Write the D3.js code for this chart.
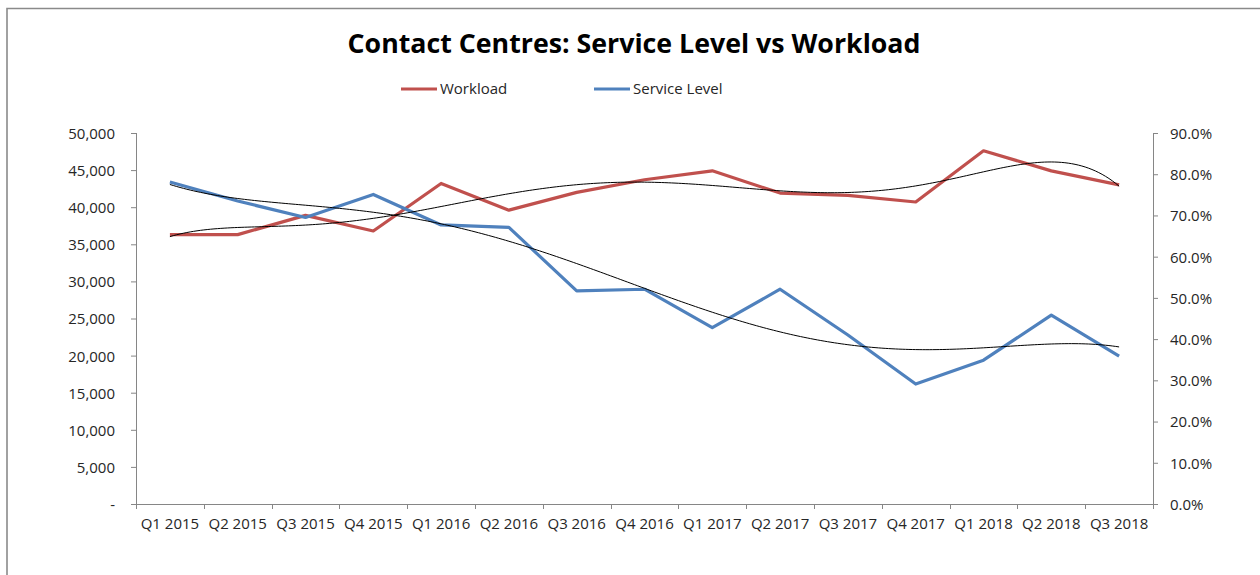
<!DOCTYPE html>
<html>
<head>
<meta charset="utf-8">
<script src="https://cdn.jsdelivr.net/npm/d3@7"></script>
<style>
  html, body { margin: 0; padding: 0; background: #fff; }
  svg { display: block; }
  text { font-family: "Open Sans", "Noto Sans", sans-serif; fill: #262626; }
</style>
</head>
<body>
<svg id="chart" width="1260" height="575"></svg>
<script>
// Quarterly categories
const quarters = ["Q1 2015","Q2 2015","Q3 2015","Q4 2015","Q1 2016","Q2 2016","Q3 2016","Q4 2016",
                  "Q1 2017","Q2 2017","Q3 2017","Q4 2017","Q1 2018","Q2 2018","Q3 2018"];
// Contacts handled per quarter (left axis)
const workload = [36300, 36300, 38900, 36800, 43200, 39600, 42000, 43700,
                  44900, 41900, 41600, 40700, 47600, 44900, 43000];
// Share of contacts answered within target (right axis)
const serviceLevel = [0.781, 0.735, 0.695, 0.751, 0.677, 0.671, 0.517, 0.521,
                      0.428, 0.521, 0.410, 0.291, 0.349, 0.458, 0.359];
// Axis ticks
const leftTicks = [0, 5000, 10000, 15000, 20000, 25000, 30000, 35000, 40000, 45000, 50000];
const rightTicks = [0, 0.1, 0.2, 0.3, 0.4, 0.5, 0.6, 0.7, 0.8, 0.9];
const trendOrder = 6;

const svg = d3.select("#chart");
const plot = { left: 136, right: 1153, top: 133, bottom: 504 };
const red = "#C0504D", blue = "#4F81BD", axisGrey = "#868686";

// Outer frame (top and left edges)
svg.append("path")
  .attr("d", "M7,575 V8.5 H1260")
  .attr("fill", "none").attr("stroke", "#8a8a8a").attr("stroke-width", 1.6);

// Title, fitted to its width
const title = svg.append("text")
  .attr("x", 634).attr("y", 53).attr("text-anchor", "middle")
  .style("font-weight", "700").style("font-size", "28px").style("fill", "#000")
  .text("Contact Centres: Service Level vs Workload");
const tw = title.node().getComputedTextLength();
title.style("font-size", (28 * 573 / tw).toFixed(2) + "px");

// Scales
const x = d3.scaleBand().domain(quarters).range([plot.left, plot.right]);
const yL = d3.scaleLinear().domain([0, 50000]).range([plot.bottom, plot.top]);
const yR = d3.scaleLinear().domain([0, 0.9]).range([plot.bottom, plot.top]);
const cx = q => x(q) + x.bandwidth() / 2;

// Axes
const fmtL = d => d === 0 ? "-" : d3.format(",")(d);
const axL = svg.append("g").attr("transform", `translate(${plot.left},0)`)
  .call(d3.axisLeft(yL).tickValues(leftTicks).tickFormat(fmtL).tickSize(5).tickPadding(16));
const axR = svg.append("g").attr("transform", `translate(${plot.right},0)`)
  .call(d3.axisRight(yR).tickValues(rightTicks).tickFormat(d3.format(".1%")).tickSize(5).tickPadding(12));
const axB = svg.append("g").attr("transform", `translate(0,${plot.bottom})`)
  .call(d3.axisBottom(x).tickSize(0).tickPadding(14));

[axL, axR, axB].forEach(g => {
  g.select(".domain").attr("stroke", axisGrey).attr("stroke-width", 1);
  g.selectAll(".tick line").attr("stroke", axisGrey);
  g.selectAll(".tick text").style("font-family", "'Open Sans', sans-serif")
    .style("font-size", "15px").attr("fill", "#262626");
});
axL.select(".domain").attr("d", `M-5,${plot.bottom + 0.5}H0.5V${plot.top}`);
axR.select(".domain").attr("d", `M0.5,${plot.top}V${plot.bottom + 0.5}H5`);
axB.select(".domain").attr("d", `M${plot.left},0.5H${plot.right}`);
axL.selectAll(".tick text").attr("dy", "0.36em");
axR.selectAll(".tick text").attr("dy", "0.36em");
axB.selectAll(".tick text").attr("dy", "0.75em");

// Category boundary ticks on the bottom axis
svg.append("g").selectAll("line")
  .data(d3.range(quarters.length + 1))
  .join("line")
  .attr("x1", i => Math.round(plot.left + i * x.step()) + 0.5)
  .attr("x2", i => Math.round(plot.left + i * x.step()) + 0.5)
  .attr("y1", plot.bottom).attr("y2", plot.bottom + 5)
  .attr("stroke", axisGrey);

// Series lines
const lineL = d3.line().x((d, i) => cx(quarters[i])).y(d => yL(d));
const lineR = d3.line().x((d, i) => cx(quarters[i])).y(d => yR(d));
svg.append("path").datum(workload).attr("d", lineL)
  .attr("fill", "none").attr("stroke", red).attr("stroke-width", 3.2).attr("stroke-linejoin", "round");
svg.append("path").datum(serviceLevel).attr("d", lineR)
  .attr("fill", "none").attr("stroke", blue).attr("stroke-width", 3.2).attr("stroke-linejoin", "round");

// Least-squares polynomial trendline
function polyFit(values, order) {
  const n = values.length, mid = (n - 1) / 2;
  const t = values.map((_, i) => (i - mid) / mid);
  const m = order + 1;
  const A = Array.from({ length: m }, () => new Array(m + 1).fill(0));
  for (let k = 0; k < n; k++) {
    const p = d3.range(m).map(j => Math.pow(t[k], j));
    for (let r = 0; r < m; r++) {
      for (let c = 0; c < m; c++) A[r][c] += p[r] * p[c];
      A[r][m] += p[r] * values[k];
    }
  }
  for (let col = 0; col < m; col++) {
    let piv = col;
    for (let r = col + 1; r < m; r++) if (Math.abs(A[r][col]) > Math.abs(A[piv][col])) piv = r;
    [A[col], A[piv]] = [A[piv], A[col]];
    for (let r = 0; r < m; r++) {
      if (r === col) continue;
      const f = A[r][col] / A[col][col];
      for (let c = col; c <= m; c++) A[r][c] -= f * A[col][c];
    }
  }
  const coef = A.map((row, i) => row[m] / row[i]);
  return idx => {
    const tt = (idx - mid) / mid;
    return coef.reduce((s, c, j) => s + c * Math.pow(tt, j), 0);
  };
}

const first = cx(quarters[0]);
const samples = d3.range(0, quarters.length - 1 + 1e-9, 0.05);
const fitL = polyFit(workload, trendOrder);
const fitR = polyFit(serviceLevel, trendOrder);
const trend = d3.line().curve(d3.curveLinear);
svg.append("path")
  .attr("d", trend(samples.map(s => [first + s * x.step(), yL(fitL(s))])))
  .attr("fill", "none").attr("stroke", "#000").attr("stroke-width", 1);
svg.append("path")
  .attr("d", trend(samples.map(s => [first + s * x.step(), yR(fitR(s))])))
  .attr("fill", "none").attr("stroke", "#000").attr("stroke-width", 1);

// Legend
const legend = [
  { name: "Workload", color: red, x: 401 },
  { name: "Service Level", color: blue, x: 594 }
];
const lg = svg.append("g").selectAll("g").data(legend).join("g")
  .attr("transform", d => `translate(${d.x},89)`);
lg.append("line").attr("x1", 0).attr("x2", 36).attr("y1", 0).attr("y2", 0)
  .attr("stroke", d => d.color).attr("stroke-width", 3.2);
lg.append("text").attr("x", 39).attr("dy", "0.36em")
  .style("font-size", "15px").text(d => d.name);
</script>
</body>
</html>
